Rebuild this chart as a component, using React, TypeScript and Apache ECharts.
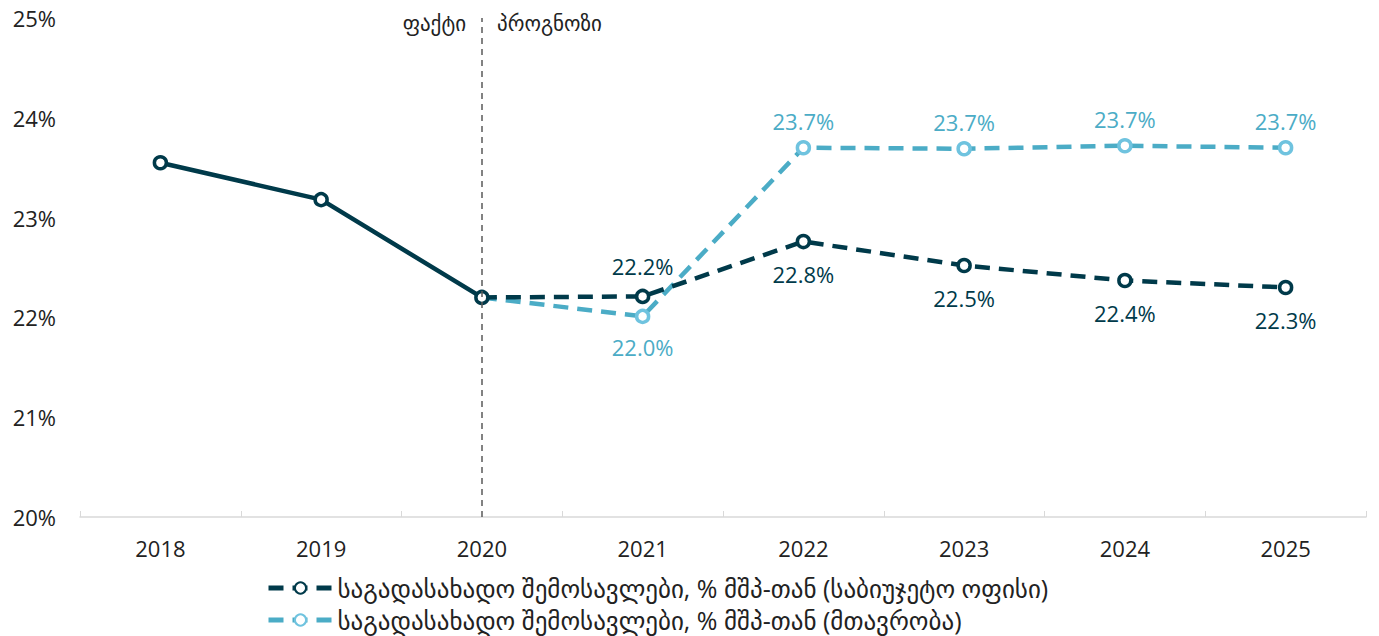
import React, { useEffect, useRef } from "react";
import * as echarts from "echarts";

const years = ["2018", "2019", "2020", "2021", "2022", "2023", "2024", "2025"];
const actual = [23.55, 23.18, 22.2, null, null, null, null, null];
const budgetOffice = [null, null, 22.2, 22.21, 22.76, 22.52, 22.37, 22.3];
const government = [null, null, 22.2, 22.01, 23.7, 23.69, 23.72, 23.7];
const yTicks = [20, 21, 22, 23, 24, 25];

const nameBO = "საგადასახადო შემოსავლები, % მშპ-თან (საბიუჯეტო ოფისი)";
const nameGov = "საგადასახადო შემოსავლები, % მშპ-თან (მთავრობა)";

const DARK = "#003a4a";
const LIGHT = "#4bacc6";
const LIGHT_MK = "#6fc3df";
const FONT = "Open Sans, DejaVu Sans, sans-serif";

export default function App() {
  const ref = useRef<HTMLDivElement>(null);
  useEffect(() => {
    const chart = echarts.init(ref.current!, null, { renderer: "svg" });
    const boData = budgetOffice.map((v, i) =>
      v === null
        ? null
        : {
            value: v,
            symbol: i === 2 ? "none" : "circle",
            label: {
              show: i > 2,
              position: i === 3 ? "top" : "bottom",
              distance: i === 3 ? 12 : 14,
            },
          }
    );
    const govData = government.map((v, i) =>
      v === null
        ? null
        : {
            value: v,
            symbol: i === 2 ? "none" : "circle",
            label: {
              show: i > 2,
              position: i === 3 ? "bottom" : "top",
              distance: i === 3 ? 12 : 8,
            },
          }
    );
    const legendBase = {
      orient: "horizontal",
      left: 266,
      itemWidth: 64,
      itemHeight: 14,
      padding: 0,
      lineStyle: { width: 5 },
      textStyle: { fontSize: 25, lineHeight: 28, color: "#222", fontFamily: FONT },
    };
    chart.setOption({
      animation: false,
      textStyle: { fontFamily: FONT },
      grid: { left: 80, right: 13, top: 18, bottom: 119 },
      legend: [
        { ...legendBase, data: [nameBO], top: 574 },
        { ...legendBase, data: [nameGov], top: 606 },
      ],
      xAxis: {
        type: "category",
        data: years,
        boundaryGap: true,
        axisLine: { lineStyle: { color: "#d9d9d9", width: 1.5 } },
        axisTick: { show: true, inside: true, length: 6, lineStyle: { color: "#d9d9d9" } },
        axisLabel: { fontSize: 22, color: "#222", margin: 20, fontFamily: FONT },
      },
      yAxis: {
        type: "value",
        min: yTicks[0],
        max: yTicks[yTicks.length - 1],
        interval: 1,
        splitLine: { show: false },
        axisLine: { show: false },
        axisTick: { show: false },
        axisLabel: { fontSize: 22, color: "#222", formatter: (v: number) => `${v}%`, margin: 24, fontFamily: FONT },
      },
      graphic: [
        { type: "text", right: 1379 - 466, top: 12, style: { text: "ფაქტი", fontSize: 21, fill: "#222", fontFamily: FONT } },
        { type: "text", left: 497, top: 12, style: { text: "პროგნოზი", fontSize: 21, fill: "#222", fontFamily: FONT } },
      ],
      series: [
        {
          name: nameGov,
          type: "line",
          data: govData,
          symbol: "circle",
          symbolSize: 12,
          itemStyle: { color: "#fff", borderColor: LIGHT_MK, borderWidth: 3.5 },
          lineStyle: { color: LIGHT, width: 4.5, type: [15, 9] },
          label: { fontSize: 22, color: LIGHT, formatter: (p: any) => `${p.value.toFixed(1)}%`, fontFamily: FONT },
          z: 2,
        },
        {
          name: nameBO,
          type: "line",
          data: boData,
          symbol: "circle",
          symbolSize: 12,
          itemStyle: { color: "#fff", borderColor: DARK, borderWidth: 3.5 },
          lineStyle: { color: DARK, width: 4.5, type: [15, 9] },
          label: { fontSize: 22, color: DARK, formatter: (p: any) => `${p.value.toFixed(1)}%`, fontFamily: FONT },
          z: 3,
        },
        {
          name: "actual",
          type: "line",
          data: actual,
          symbol: "circle",
          symbolSize: 12,
          itemStyle: { color: "#fff", borderColor: DARK, borderWidth: 3.5 },
          lineStyle: { color: DARK, width: 4.5 },
          z: 4,
          markLine: {
            silent: true,
            symbol: "none",
            label: { show: false },
            lineStyle: { color: "#595959", type: [6, 5], width: 1.5 },
            data: [{ xAxis: "2020" }],
          },
        },
      ],
    });
    return () => chart.dispose();
  }, []);
  return <div ref={ref} style={{ width: 1379, height: 636, position: "absolute", left: 0, top: 0 }} />;
}
